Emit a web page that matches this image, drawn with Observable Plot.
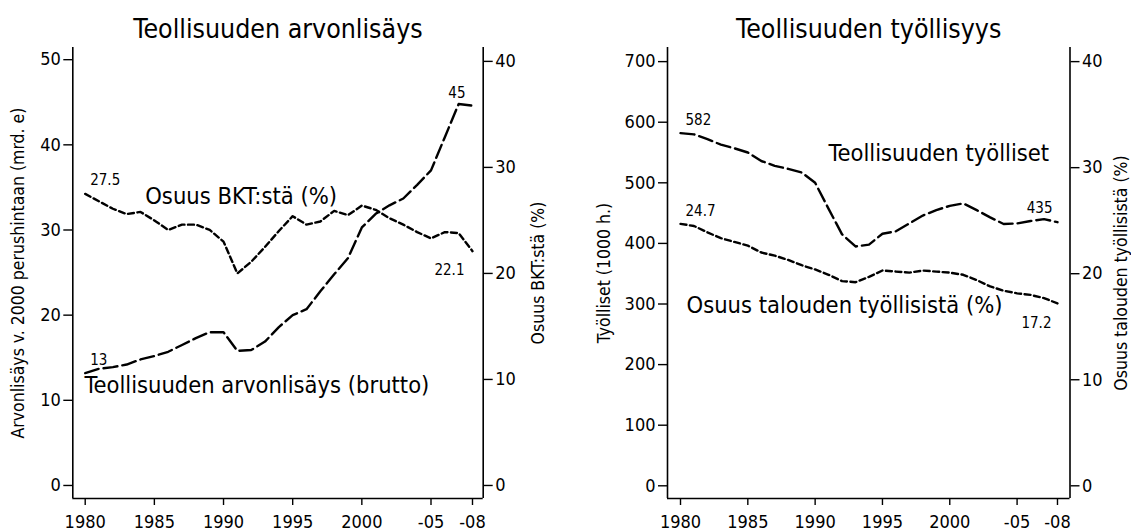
<!DOCTYPE html>
<html><head><meta charset="utf-8">
<script src="https://cdn.jsdelivr.net/npm/d3@7"></script>
<script src="https://cdn.jsdelivr.net/npm/@observablehq/plot@0.6"></script>
<style>
html,body{margin:0;padding:0;background:#fff;}
#wrap{display:flex;width:1131px;height:531px;background:#fff;}
#wrap svg{display:block;}
</style></head><body><div id="wrap"></div>
<script>
// ---- data ----
const years = [1980,1981,1982,1983,1984,1985,1986,1987,1988,1989,1990,1991,1992,1993,1994,1995,1996,1997,1998,1999,2000,2001,2002,2003,2004,2005,2006,2007,2008];
// Teollisuuden arvonlisäys, mrd. e (v. 2000 perushintaan)
const valueAdded = [13.2,13.7,13.9,14.2,14.8,15.2,15.7,16.5,17.3,18.0,18.0,15.8,15.9,16.9,18.6,20.0,20.7,22.8,24.8,26.7,30.3,31.9,32.9,33.7,35.3,37.0,40.9,44.8,44.6];
// Osuus BKT:stä, %
const gdpShare = [27.5,26.8,26.1,25.6,25.8,25.0,24.1,24.6,24.6,24.1,23.0,20.0,21.1,22.5,24.0,25.4,24.6,24.9,25.9,25.5,26.4,26.0,25.2,24.6,23.9,23.3,23.9,23.8,22.1];
// Teollisuuden työlliset, 1000 h.
const employed = [582,580,572,563,557,550,536,528,523,517,500,457,415,395,398,416,420,433,446,455,462,466,455,443,432,433,437,440,435];
// Osuus talouden työllisistä, %
const employmentShare = [24.7,24.5,23.9,23.35,23.0,22.65,22.0,21.7,21.3,20.8,20.4,19.9,19.3,19.2,19.7,20.3,20.2,20.1,20.3,20.2,20.1,19.9,19.4,18.8,18.4,18.15,18.0,17.7,17.2];

const xTickValues = [1980,1985,1990,1995,2000,2005,2008];
const xTickLabels = ["1980","1985","1990","1995","2000","-05","-08"];

const leftTicksA = [0,10,20,30,40,50];
const rightTicksA = [0,10,20,30,40];
const leftTicksB = [0,100,200,300,400,500,600,700];
const rightTicksB = [0,10,20,30,40];

const FONT = "'DejaVu Sans Condensed', 'DejaVu Sans', sans-serif";
const LONG = "14,5";
const SHORT = "6,3.5";

function panel(cfg) {
  const k = cfg.k;
  const main = years.map((year, i) => ({year, v: cfg.main[i]}));
  const share = years.map((year, i) => ({year, v: cfg.share[i] * k}));
  const first = (arr) => [arr[0]];
  const last = (arr) => [arr[arr.length - 1]];
  return Plot.plot({
    width: cfg.width, height: 531,
    marginTop: 47, marginBottom: 33,
    marginLeft: cfg.marginLeft, marginRight: cfg.marginRight,
    x: {domain: cfg.xDomain},
    y: {domain: cfg.yDomain},
    style: {fontFamily: FONT, fontSize: "18px", background: "#fff", color: "#000", overflow: "visible"},
    marks: [
      Plot.ruleX([cfg.xDomain[0]], {stroke: "#000", strokeWidth: 1.6}),
      Plot.ruleX([cfg.xDomain[1]], {stroke: "#000", strokeWidth: 1.6}),
      Plot.ruleY([cfg.yDomain[0]], {stroke: "#000", strokeWidth: 1.6}),
      Plot.axisX({ticks: xTickValues, tickFormat: (d) => xTickLabels[xTickValues.indexOf(d)], tickSize: 7, tickPadding: 10, label: null, strokeWidth: 1.4}),
      Plot.axisY({ticks: cfg.leftTicks, tickFormat: (d) => String(d), tickSize: 9, tickPadding: 3, label: null, strokeWidth: 1.4}),
      Plot.axisY({anchor: "right", ticks: cfg.rightTicks.map((r) => r * k), tickFormat: (d) => String(Math.round(d / k)), tickSize: 9, tickPadding: 3, label: null, strokeWidth: 1.4}),
      // axis titles
      Plot.text([cfg.leftLabel], {frameAnchor: "left", textAnchor: "middle", lineAnchor: "middle", rotate: -90, dx: cfg.leftLabelDx, fontSize: 17.5}),
      Plot.text([cfg.rightLabel], {frameAnchor: "right", textAnchor: "middle", lineAnchor: "middle", rotate: -90, dx: cfg.rightLabelDx, fontSize: 17.5}),
      // title
      Plot.text([cfg.title], {frameAnchor: "top", dy: -10, lineAnchor: "bottom", fontSize: 26.5}),
      // series
      Plot.line(main, {x: "year", y: "v", stroke: "#000", strokeWidth: 2.4, strokeDasharray: LONG}),
      Plot.line(share, {x: "year", y: "v", stroke: "#000", strokeWidth: 2.4, strokeDasharray: SHORT}),
      // end-point value labels
      Plot.text(first(main), {x: "year", y: "v", text: (d) => cfg.fmtMain(d.v), textAnchor: "start", lineAnchor: "bottom", dx: 5, dy: cfg.dy.mainFirst, fontSize: 15}),
      Plot.text(last(main), {x: "year", y: "v", text: (d) => cfg.fmtMain(d.v), textAnchor: "end", lineAnchor: "bottom", dx: cfg.dx.mainLast, dy: cfg.dy.mainLast, fontSize: 15}),
      Plot.text(first(share), {x: "year", y: "v", text: (d) => (d.v / k).toFixed(1), textAnchor: "start", lineAnchor: "bottom", dx: 5, dy: cfg.dy.shareFirst, fontSize: 15}),
      Plot.text(last(share), {x: "year", y: "v", text: (d) => (d.v / k).toFixed(1), textAnchor: "end", lineAnchor: "bottom", dx: cfg.dx.shareLast, dy: cfg.dy.shareLast, fontSize: 15}),
      // series names
      Plot.text(cfg.names, {x: "x", y: "y", text: "text", textAnchor: "start", lineAnchor: "bottom", fontSize: 23.5})
    ]
  });
}

const left = panel({
  width: 565, marginLeft: 72.3, marginRight: 82.3,
  xDomain: [1979.103, 2008.774], yDomain: [-1.53, 51.43], k: 1.245,
  main: valueAdded, share: gdpShare,
  leftTicks: leftTicksA, rightTicks: rightTicksA,
  leftLabel: "Arvonlisäys v. 2000 perushintaan (mrd. e)", leftLabelDx: -54,
  rightLabel: "Osuus BKT:stä (%)", rightLabelDx: 55,
  title: "Teollisuuden arvonlisäys",
  fmtMain: (v) => v.toFixed(0),
  dx: {mainLast: -7, shareLast: -8},
  dy: {mainFirst: -8, mainLast: -8, shareFirst: -9, shareLast: 24},
  names: [
    {text: "Osuus BKT:stä (%)", x: 1984.34, y: 33.0},
    {text: "Teollisuuden arvonlisäys (brutto)", x: 1979.95, y: 10.82}
  ]
});

const right = panel({
  width: 566, marginLeft: 102, marginRight: 61.5,
  xDomain: [1979.034, 2008.93], yDomain: [-20.96, 723.3], k: 17.5,
  main: employed, share: employmentShare,
  leftTicks: leftTicksB, rightTicks: rightTicksB,
  leftLabel: "Työlliset (1000 h.)", leftLabelDx: -63,
  rightLabel: "Osuus talouden työllisistä (%)", rightLabelDx: 51,
  title: "Teollisuuden työllisyys",
  fmtMain: (v) => v.toFixed(0),
  dx: {mainLast: -5, shareLast: -6},
  dy: {mainFirst: -8, mainLast: -9, shareFirst: -8, shareLast: 25},
  names: [
    {text: "Teollisuuden työlliset", x: 1991.0, y: 536.8},
    {text: "Osuus talouden työllisistä (%)", x: 1980.45, y: 285.9}
  ]
});

document.getElementById("wrap").append(left, right);
</script>
</body></html>
